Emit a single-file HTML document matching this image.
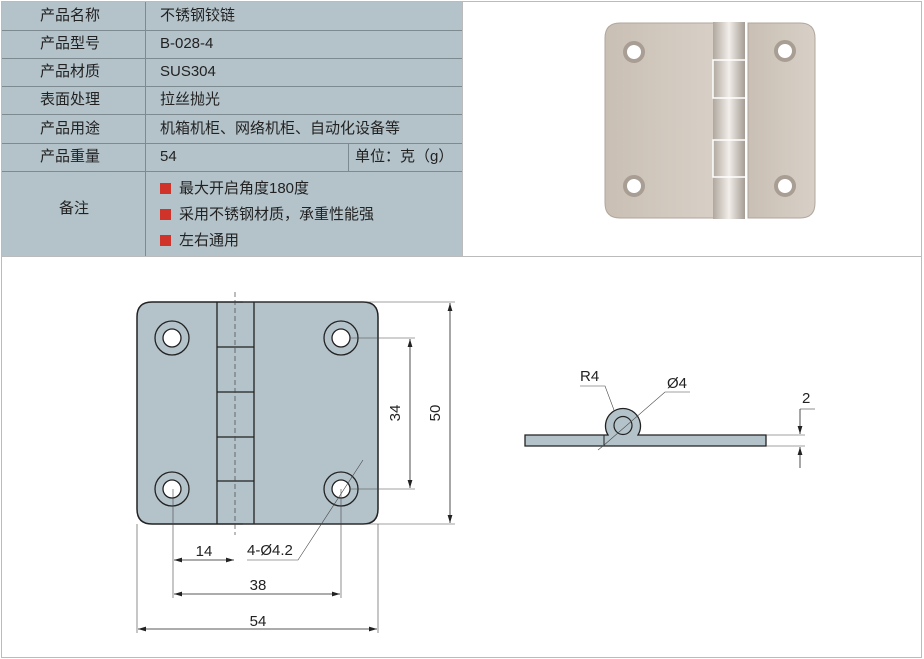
<!DOCTYPE html>
<html><head><meta charset="utf-8"><style>
body{margin:0;width:924px;height:659px;background:#fff;position:relative;overflow:hidden;font-family:"Liberation Sans","Noto Sans CJK SC",sans-serif;}
.t{position:absolute;left:2px;top:2px;width:460px;height:254px;background:#b4c3ca;}
.c{position:absolute;font-size:15px;color:#222;line-height:28px;}
.h{position:absolute;background:#7d8a90;height:1px;}
.v{position:absolute;background:#7d8a90;width:1px;}
.sq{display:inline-block;width:11px;height:11px;background:#d0332a;margin-right:8px;vertical-align:-1px;}
</style></head><body>
<div class="t"></div>
<div class="v" style="left:1px;top:1px;height:656px;background:#bbb"></div>
<div class="v" style="left:921px;top:1px;height:656px;background:#bbb"></div>
<div class="h" style="left:1px;top:1px;width:921px;background:#bbb"></div>
<div class="h" style="left:1px;top:657px;width:921px;background:#bbb"></div>
<div class="h" style="left:1px;top:256px;width:921px;background:#bbb"></div>
<div class="v" style="left:462px;top:1px;height:256px;background:#bbb"></div>
<div class="v" style="left:145px;top:2px;height:254px"></div>
<div class="v" style="left:348px;top:143px;height:28px"></div>
<div class="h" style="left:2px;top:30px;width:460px"></div>
<div class="h" style="left:2px;top:58px;width:460px"></div>
<div class="h" style="left:2px;top:86px;width:460px"></div>
<div class="h" style="left:2px;top:114px;width:460px"></div>
<div class="h" style="left:2px;top:143px;width:460px"></div>
<div class="h" style="left:2px;top:171px;width:460px"></div>
<div class="c" style="left:40px;top:2px">产品名称</div><div class="c" style="left:160px;top:2px">不锈钢铰链</div>
<div class="c" style="left:40px;top:30px">产品型号</div><div class="c" style="left:160px;top:30px">B-028-4</div>
<div class="c" style="left:40px;top:58px">产品材质</div><div class="c" style="left:160px;top:58px">SUS304</div>
<div class="c" style="left:40px;top:86px">表面处理</div><div class="c" style="left:160px;top:86px">拉丝抛光</div>
<div class="c" style="left:40px;top:115px">产品用途</div><div class="c" style="left:160px;top:115px">机箱机柜、网络机柜、自动化设备等</div>
<div class="c" style="left:40px;top:143px">产品重量</div><div class="c" style="left:160px;top:143px">54</div><div class="c" style="left:355px;top:143px">单位：克（g）</div>
<div class="c" style="left:59px;top:195px">备注</div>
<div class="c" style="left:160px;top:176px;line-height:26px"><span class="sq"></span>最大开启角度180度<br><span class="sq"></span>采用不锈钢材质，承重性能强<br><span class="sq"></span>左右通用</div>

<svg width="924" height="659" style="position:absolute;left:0;top:0">
<defs>
<linearGradient id="g" x1="0" x2="1"><stop offset="0" stop-color="#c9bfb4"/><stop offset="1" stop-color="#d8d0c7"/></linearGradient>
<linearGradient id="k" x1="0" x2="1"><stop offset="0" stop-color="#b0a89f"/><stop offset=".5" stop-color="#f2eee9"/><stop offset="1" stop-color="#a59d95"/></linearGradient>
<marker id="a" markerWidth="10" markerHeight="6" refX="10" refY="3" orient="auto-start-reverse"><path d="M0,0L10,3L0,6z" fill="#222"/></marker>
</defs>
<!-- photo -->
<path d="M620,23H716V218H620Q605,218 605,203V38Q605,23 620,23Z" fill="url(#g)" stroke="#b0a69c"/>
<path d="M748,23H800Q815,23 815,38V203Q815,218 800,218H748Z" fill="url(#g)" stroke="#b0a69c"/>
<rect x="713" y="22" width="32" height="197" fill="url(#k)"/>
<g stroke="#fff" stroke-width="1.5" fill="none"><path d="M745,60H713V98H745"/><path d="M745,140H713V177H745"/></g>
<g fill="#fff" stroke="#a99e93" stroke-width="4"><circle cx="634" cy="52" r="9"/><circle cx="785" cy="51" r="9"/><circle cx="634" cy="186" r="9"/><circle cx="785" cy="186" r="9"/></g>
<!-- front view -->
<path d="M152,302H363Q378,302 378,317V509Q378,524 363,524H152Q137,524 137,509V317Q137,302 152,302Z" fill="#b4c3ca" stroke="#222" stroke-width="1.5"/>
<g stroke="#222" stroke-width="1.3"><line x1="217" y1="302" x2="217" y2="524"/><line x1="254" y1="302" x2="254" y2="524"/>
<line x1="217" y1="347" x2="254" y2="347"/><line x1="217" y1="392" x2="254" y2="392"/><line x1="217" y1="437" x2="254" y2="437"/><line x1="217" y1="481" x2="254" y2="481"/></g>
<line x1="235" y1="292" x2="235" y2="535" stroke="#444" stroke-width=".7" stroke-dasharray="5,3"/>
<g stroke="#222" stroke-width="1.3" fill="#b4c3ca">
<circle cx="172" cy="338" r="17"/><circle cx="341" cy="338" r="17"/><circle cx="172" cy="489" r="17"/><circle cx="341" cy="489" r="17"/></g>
<g stroke="#222" stroke-width="1.3" fill="#fff">
<circle cx="172" cy="338" r="9"/><circle cx="341" cy="338" r="9"/><circle cx="172" cy="489" r="9"/><circle cx="341" cy="489" r="9"/></g>
<g stroke="#444" stroke-width=".6" fill="none">
<line x1="243" y1="302" x2="455" y2="302"/><line x1="243" y1="524" x2="455" y2="524"/>
<line x1="350" y1="338" x2="415" y2="338"/><line x1="350" y1="489" x2="415" y2="489"/>
<line x1="173" y1="489" x2="173" y2="598"/><line x1="341" y1="489" x2="341" y2="598"/>
<line x1="137" y1="524" x2="137" y2="633"/><line x1="378" y1="524" x2="378" y2="633"/>
<path d="M363,460L298,560H247"/>
</g>
<g stroke="#222" stroke-width=".8" marker-start="url(#a)" marker-end="url(#a)">
<line x1="450" y1="303" x2="450" y2="523"/><line x1="410" y1="339" x2="410" y2="488"/>
<line x1="174" y1="560" x2="234" y2="560"/><line x1="174" y1="594" x2="340" y2="594"/><line x1="138" y1="629" x2="377" y2="629"/>
</g>
<g font-size="15" fill="#222" font-family="Liberation Sans,sans-serif">
<text x="440" y="413" transform="rotate(-90 440 413)" text-anchor="middle">50</text>
<text x="400" y="413" transform="rotate(-90 400 413)" text-anchor="middle">34</text>
<text x="204" y="556" text-anchor="middle">14</text><text x="258" y="590" text-anchor="middle">38</text><text x="258" y="626" text-anchor="middle">54</text>
<text x="247" y="555">4-Ø4.2</text>
<text x="580" y="381">R4</text><text x="667" y="388">Ø4</text><text x="802" y="403">2</text>
</g>
<!-- side view -->
<path d="M525,435H608A17.5,17.5 0 1 1 638,435H766V446H525Z" fill="#b4c3ca" stroke="#222" stroke-width="1.3"/>
<line x1="604" y1="435" x2="604" y2="446" stroke="#222"/>
<circle cx="623" cy="425.5" r="9" fill="#b4c3ca" stroke="#222" stroke-width="1.2"/>
<g stroke="#444" stroke-width=".6" fill="none">
<path d="M580,386H605L614,410"/><path d="M690,392H665L603,446L598,450"/>
<line x1="766" y1="435" x2="805" y2="435"/><line x1="766" y1="446" x2="805" y2="446"/>
<line x1="800" y1="409" x2="815" y2="409"/>
</g>
<g stroke="#222" stroke-width=".8"><line x1="800" y1="409" x2="800" y2="434" marker-end="url(#a)"/><line x1="800" y1="468" x2="800" y2="447" marker-end="url(#a)"/></g>
</svg>
</body></html>
